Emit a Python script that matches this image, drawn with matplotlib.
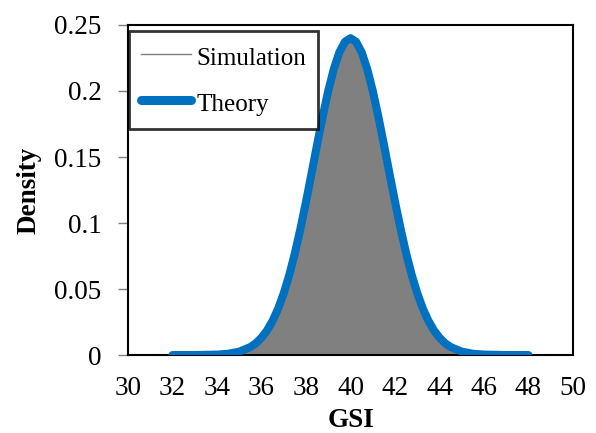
import matplotlib
matplotlib.use("Agg")
import matplotlib.pyplot as plt

# Theory curve
theory_x = [32, 33, 34, 34.5, 35, 35.5, 35.75, 36, 36.25, 36.5, 36.75, 37, 37.25, 37.5, 37.75,
            38, 38.25, 38.5, 38.75, 39, 39.25, 39.5, 39.75, 40,
            40.25, 40.5, 40.75, 41, 41.25, 41.5, 41.75, 42, 42.25, 42.5, 42.75,
            43, 43.25, 43.5, 43.75, 44, 44.25, 44.5, 45, 45.5, 46, 47, 48]
theory_y = [0.0, 0.00002, 0.00035, 0.0010, 0.0026, 0.0061, 0.0090, 0.0132, 0.0187, 0.0260, 0.0353,
            0.0469, 0.0608, 0.0772, 0.0958, 0.1161, 0.1377, 0.1596, 0.1807, 0.2002, 0.2167,
            0.2294, 0.2373, 0.2400,
            0.2373, 0.2294, 0.2167, 0.2002, 0.1807, 0.1596, 0.1377, 0.1161, 0.0958, 0.0772,
            0.0608, 0.0469, 0.0353, 0.0260, 0.0187, 0.0132, 0.0090, 0.0061, 0.0026, 0.0010,
            0.00035, 0.00002, 0.0]

# Simulation density
sim_x = [34.5, 35, 35.5, 36, 36.5, 37, 37.5, 38, 38.5, 39, 39.5, 40,
         40.5, 41, 41.5, 42, 42.5, 43, 43.5, 44, 44.5, 45, 45.5]
sim_y = [0.0008, 0.0025, 0.0060, 0.0130, 0.0258, 0.0466, 0.0770, 0.1158, 0.1592, 0.1998, 0.2290, 0.2396,
         0.2290, 0.1998, 0.1592, 0.1158, 0.0770, 0.0466, 0.0258, 0.0130, 0.0060, 0.0025, 0.0008]

x_ticks = [30, 32, 34, 36, 38, 40, 42, 44, 46, 48, 50]
y_ticks = [0, 0.05, 0.1, 0.15, 0.2, 0.25]
y_tick_labels = ["0", "0.05", "0.1", "0.15", "0.2", "0.25"]

plt.rcParams['font.family'] = ['Liberation Serif', 'DejaVu Serif']

fig = plt.figure(figsize=(5.96, 4.33), dpi=100)
ax = fig.add_axes([0.2148, 0.180, 0.7466, 0.7623])

ax.fill_between(sim_x, sim_y, 0, color='#808080', linewidth=0, zorder=1)
ax.plot(sim_x, sim_y, color='#808080', linewidth=1.0, label='Simulation', zorder=2)
ax.plot(theory_x, theory_y, color='#0070C0', linewidth=5.8, label='Theory',
        solid_capstyle='round', solid_joinstyle='round', zorder=3)

ax.set_xlim(30, 50)
ax.set_ylim(0, 0.25)
ax.set_xticks(x_ticks)
ax.set_yticks(y_ticks)
ax.set_yticklabels(y_tick_labels)
ax.tick_params(axis='x', length=0, labelsize=19.5, pad=15)
ax.tick_params(axis='y', length=7, width=1, direction='out', labelsize=19.5, pad=12,
               color='#808080')
for s in ax.spines.values():
    s.set_linewidth(1.5)
    s.set_color('black')

ax.set_xlabel('GSI', fontsize=19.5, fontweight='bold', labelpad=5)
ax.set_ylabel('Density', fontsize=19.5, fontweight='bold', labelpad=9)

leg = ax.legend(loc='upper left', bbox_to_anchor=(0.003, 0.982), borderaxespad=0,
                fontsize=18, frameon=True, fancybox=False, edgecolor='black',
                handlelength=2.0, handleheight=1.4, handletextpad=0.2,
                labelspacing=0.68, borderpad=0.47)
leg.get_frame().set_linewidth(2.0)
leg.get_lines()[1].set_linewidth(6.5)

fig.savefig('out.png', dpi=100)
